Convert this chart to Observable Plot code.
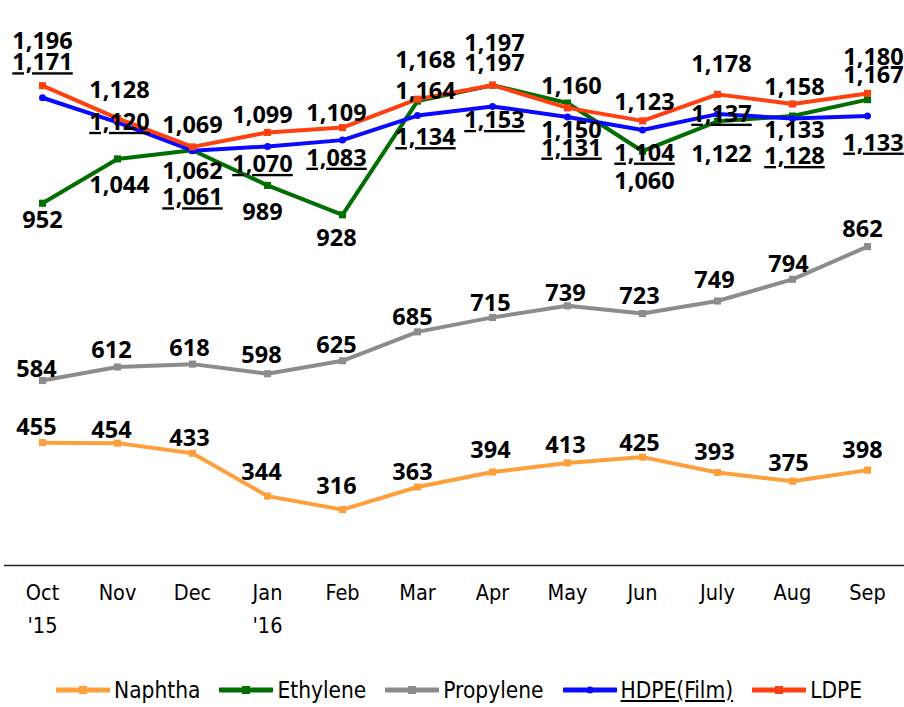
<!DOCTYPE html>
<html>
<head>
<meta charset="utf-8">
<script src="https://cdn.jsdelivr.net/npm/d3@7"></script>
<script src="https://cdn.jsdelivr.net/npm/@observablehq/plot@0.6"></script>
<style>
  body { margin: 0; background: #fff; width: 904px; }
  #legend { display: flex; align-items: center; height: 40px; padding-left: 56px; margin-top: 20px;
    font-family: "DejaVu Sans Condensed", "DejaVu Sans", sans-serif; font-size: 22.5px; color: #000; }
  .item { display: flex; align-items: center; margin-right: 19px; }
  .item svg { margin-right: 4px; }
  .u { text-decoration: underline; }
</style>
</head>
<body>
<div id="chart"></div>
<div id="legend"></div>
<script>
const months = ["Oct","Nov","Dec","Jan","Feb","Mar","Apr","May","Jun","July","Aug","Sep"];
const monthLabels = ["Oct\n'15","Nov","Dec","Jan\n'16","Feb","Mar","Apr","May","Jun","July","Aug","Sep"];
const seriesNames = ["Naphtha","Ethylene","Propylene","HDPE(Film)","LDPE"];
const naphtha   = [455, 454, 433, 344, 316, 363, 394, 413, 425, 393, 375, 398];
const ethylene  = [952, 1044, 1062, 989, 928, 1164, 1197, 1160, 1060, 1122, 1133, 1167];
const propylene = [584, 612, 618, 598, 625, 685, 715, 739, 723, 749, 794, 862];
const hdpe      = [1171, 1120, 1061, 1070, 1083, 1134, 1153, 1131, 1104, 1137, 1128, 1133];
const ldpe      = [1196, 1128, 1069, 1099, 1109, 1168, 1197, 1150, 1123, 1178, 1158, 1180];

// layout: label offsets (pixels) per point
const naphthaDy   = [-15,-13,-15,-24,-23,-15,-22,-17,-14,-20,-18,-20];
const propyleneDy = [-11,-17,-16,-18,-15,-14,-14,-12,-17,-21,-15,-17];
const ethyleneDy  = [17, 27, 21, 27, 24, -10, -22, -17, 30, 33, 14, -24];
const hdpeDy      = [-35, 0, 47, 18, 18, 22, 14, 31, 23, 0, 38, 27];
const ldpeDy      = [-44,-28,-21,-17,-14,-39,-42, 23,-18,-30,-17,-36];
const topDx       = [0, 2, 0, -5, -6, 8, 2, 4, 2, 4, 2, 6];
const bottomDx    = [-6, -6, -3, -6, -6, -5, -2, -2, -3, -3, -4, -5];

const colors = {"Naphtha":"#FF9F3C","Ethylene":"#006E00","Propylene":"#8C8C8C","HDPE(Film)":"#0A0AFF","LDPE":"#FF4010"};
const symbols = {"Naphtha":"square","Ethylene":"square","Propylene":"square","HDPE(Film)":"circle","LDPE":"square"};

const series = [
  {name: "Naphtha", values: naphtha, dy: naphthaDy, dx: bottomDx},
  {name: "Ethylene", values: ethylene, dy: ethyleneDy, dx: topDx},
  {name: "Propylene", values: propylene, dy: propyleneDy, dx: bottomDx},
  {name: "HDPE(Film)", values: hdpe, dy: hdpeDy, dx: topDx},
  {name: "LDPE", values: ldpe, dy: ldpeDy, dx: topDx}
];

const rows = series.flatMap(s => s.values.map((v, i) => ({series: s.name, month: months[i], value: v, i})));
const fmt = d3.format(",");

const marks = [
  Plot.ruleY([200], {stroke: "#222", strokeWidth: 1.3}),
  Plot.text(months, {x: d => d, text: (d, i) => monthLabels[i], frameAnchor: "bottom", lineAnchor: "top", dy: 11,
    fontSize: 21.5, lineHeight: 1.55, fontFamily: "DejaVu Sans Condensed, DejaVu Sans, sans-serif", fill: "#000"})
];
for (const s of series) {
  const data = rows.filter(r => r.series === s.name);
  marks.push(Plot.line(data, {x: "month", y: "value", stroke: colors[s.name], strokeWidth: 4}));
  marks.push(Plot.dot(data, {x: "month", y: "value", fill: colors[s.name], stroke: "none",
    symbol: symbols[s.name], r: s.name === "HDPE(Film)" ? 3.5 : 4}));
}
for (const s of series) {
  s.values.forEach((v, i) => {
    marks.push(Plot.text([{month: months[i], value: v}], {
      x: "month", y: "value", text: d => fmt(d.value),
      dy: s.dy[i], dx: s.dx[i],
      fontSize: 23.5, fontWeight: "bold", fontFamily: "Open Sans, sans-serif",
      fill: s.name === "HDPE(Film)" ? "#010101" : "#000"
    }));
  });
}

const chart = Plot.plot({
  width: 904, height: 650,
  marginTop: 11, marginBottom: 85, marginLeft: 4, marginRight: 0,
  x: {type: "point", domain: months, padding: 0.5, axis: null},
  y: {domain: [200, 1350], axis: null},
  marks
});
document.getElementById("chart").appendChild(chart);
d3.select(chart).selectAll('g[fill="#010101"] text').style("text-decoration", "underline");

const legend = d3.select("#legend");
for (const name of seriesNames) {
  const item = legend.append("div").attr("class", "item");
  const sv = item.append("svg").attr("width", 54).attr("height", 12);
  sv.append("line").attr("x1", 1).attr("x2", 53).attr("y1", 6).attr("y2", 6)
    .attr("stroke", colors[name]).attr("stroke-width", 5).attr("stroke-linecap", "round");
  if (symbols[name] === "circle") sv.append("circle").attr("cx", 27).attr("cy", 6).attr("r", 3.5).attr("fill", colors[name]);
  else sv.append("rect").attr("x", 23).attr("y", 2).attr("width", 8).attr("height", 8).attr("fill", colors[name]);
  item.append("span").attr("class", name === "HDPE(Film)" ? "u" : null).text(name);
}
</script>
</body>
</html>
